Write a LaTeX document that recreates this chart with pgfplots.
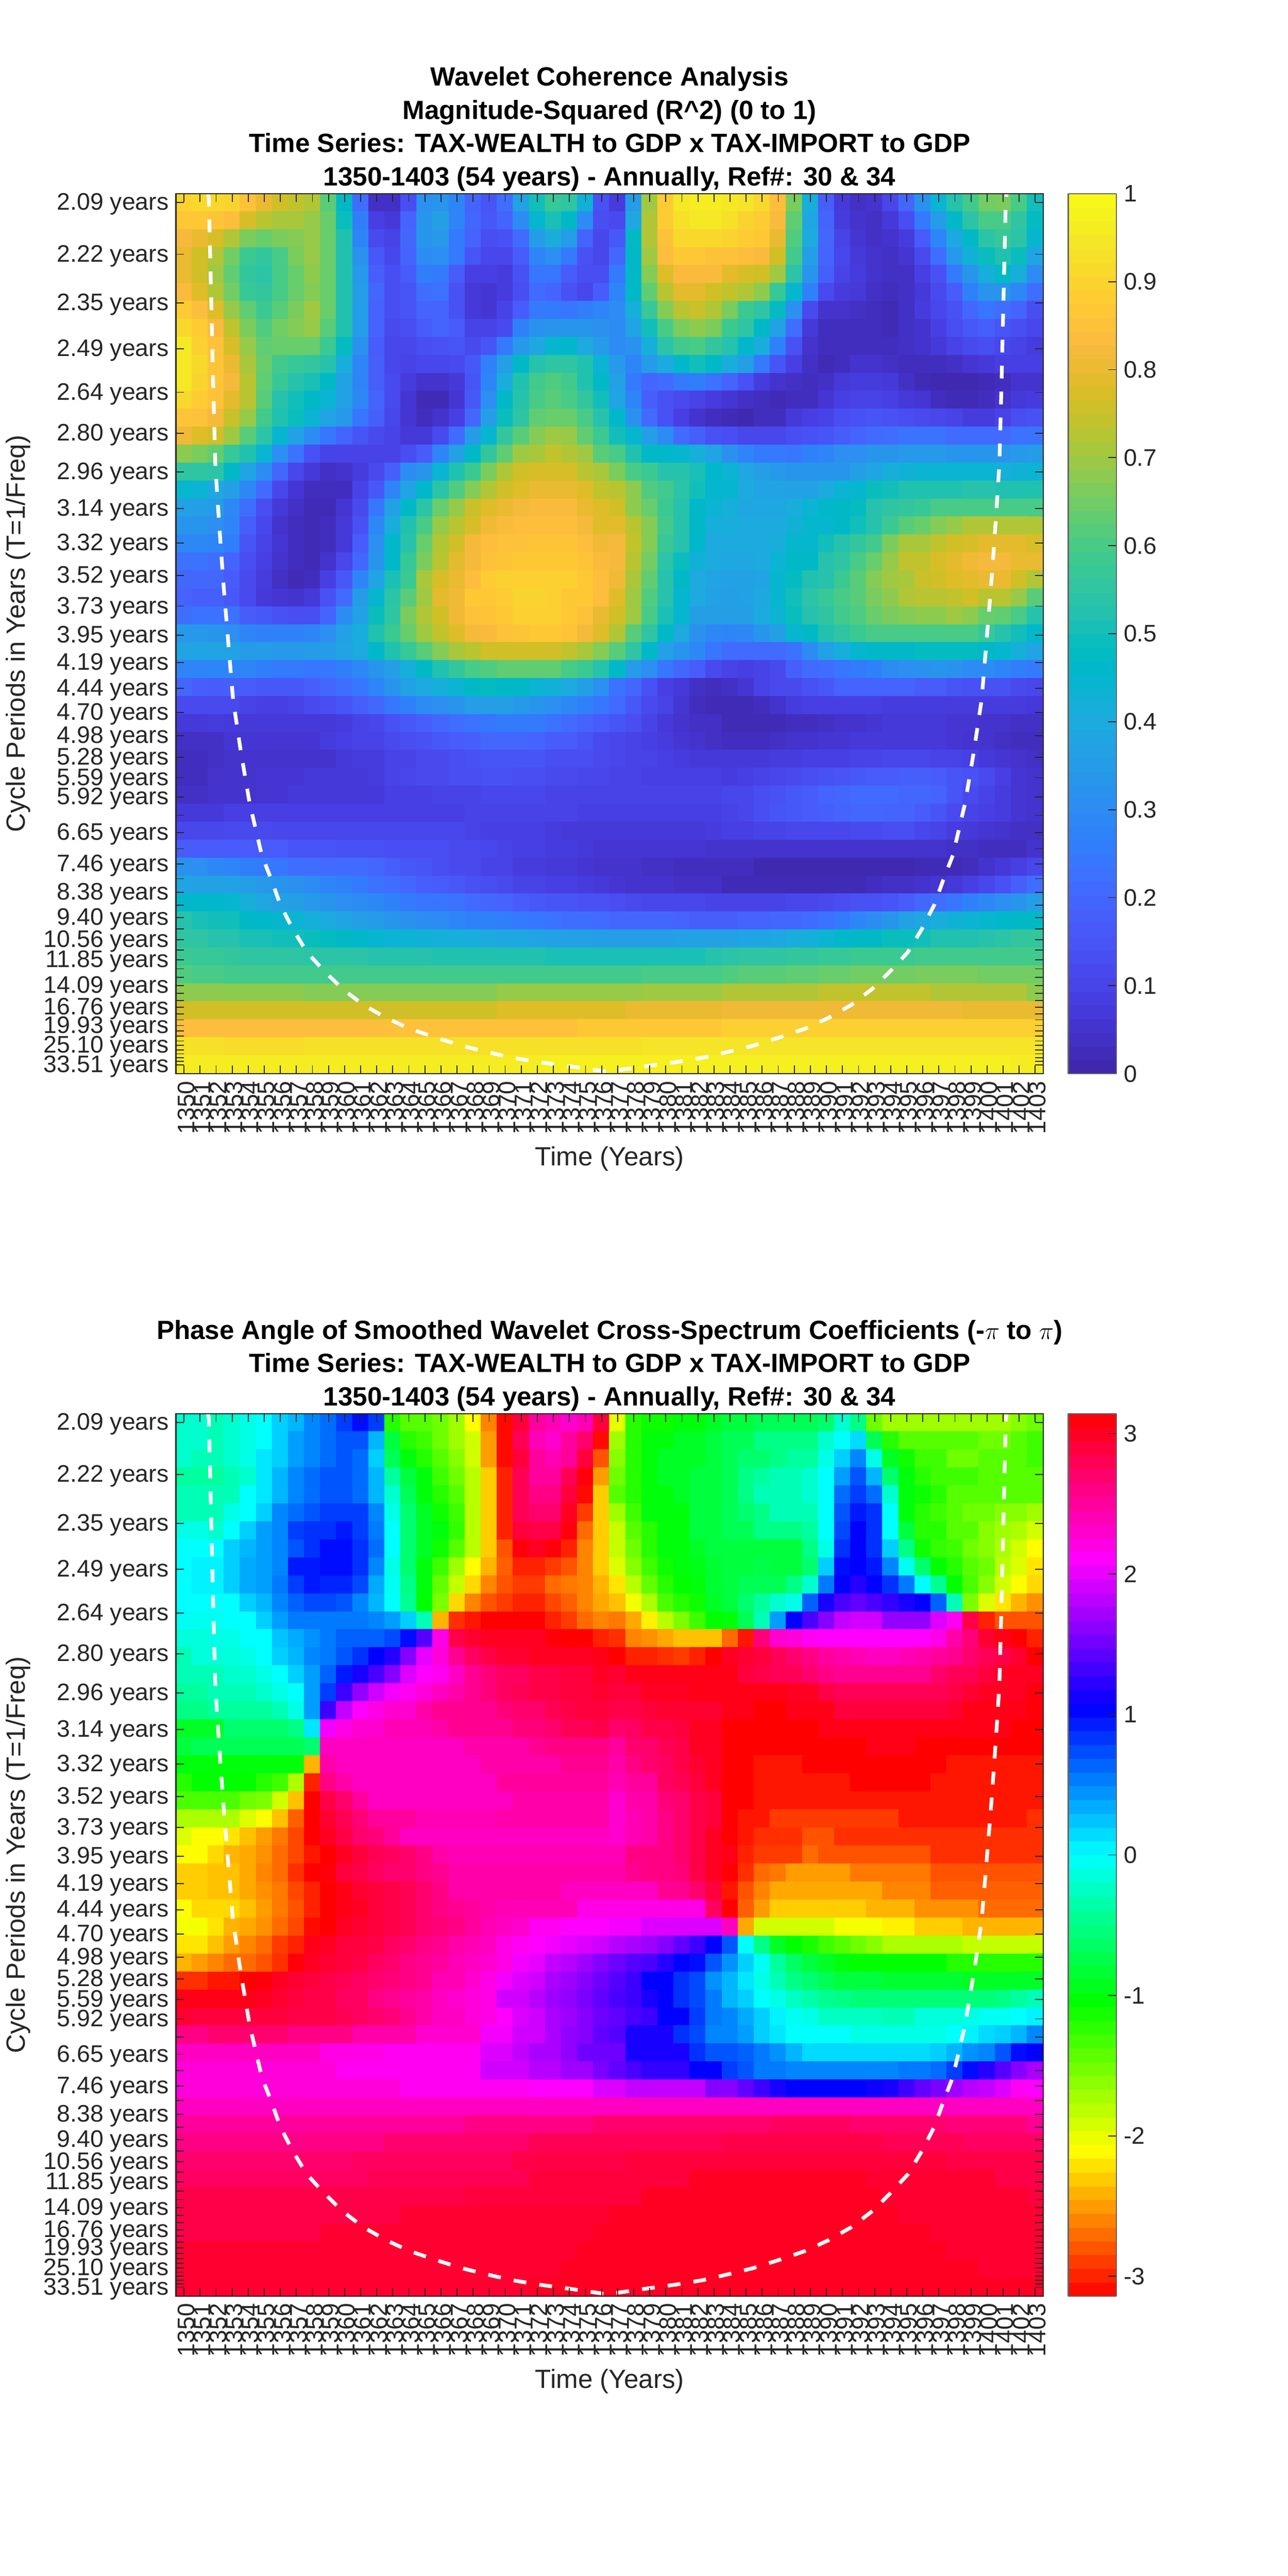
\documentclass[border=0pt]{standalone}
\usepackage{fontspec}
\setmainfont{Liberation Sans}
\usepackage{pgfplots}
\pgfplotsset{compat=1.18}
\definecolor{axgray}{gray}{0.15}
\newcount\Rcol \newcount\Rrow \newtoks\coordtoks
\def\Rstart{\coordtoks={}\Rrow=0 }
\def\Radd#1{\def\Rlast{#1}\ifnum\Rcol<54 \edef\tmp{\the\coordtoks(\the\numexpr1350+\Rcol\relax,\Rf) [\Rpre#1]}\coordtoks\expandafter{\tmp}\advance\Rcol 1 \fi}
\def\Rpad{\ifnum\Rcol<54 \expandafter\Radd\expandafter{\Rlast}\expandafter\Rpad\fi}
\def\Rloop#1 {\ifx!#1\expandafter\Rpad\else\Radd{#1}\expandafter\Rloop\fi}
\def\R#1{\Rcol=0 \pgfmathsetmacro\Rf{0.47746-0.009325*\the\Rrow}\Rloop#1 ! \advance\Rrow 1 }
\pgfplotsset{colormap={parula}{rgb=(0.2422,0.1504,0.6603) rgb=(0.2504,0.1650,0.7076) rgb=(0.2578,0.1818,0.7511) rgb=(0.2647,0.1978,0.7952) rgb=(0.2706,0.2147,0.8364) rgb=(0.2751,0.2342,0.8710) rgb=(0.2783,0.2559,0.8991) rgb=(0.2803,0.2782,0.9221) rgb=(0.2813,0.3006,0.9414) rgb=(0.2810,0.3228,0.9579) rgb=(0.2795,0.3447,0.9717) rgb=(0.2760,0.3667,0.9829) rgb=(0.2699,0.3892,0.9906) rgb=(0.2602,0.4123,0.9952) rgb=(0.2440,0.4358,0.9988) rgb=(0.2206,0.4603,0.9973) rgb=(0.1963,0.4847,0.9892) rgb=(0.1834,0.5074,0.9798) rgb=(0.1786,0.5289,0.9682) rgb=(0.1764,0.5499,0.9520) rgb=(0.1687,0.5703,0.9359) rgb=(0.1540,0.5902,0.9218) rgb=(0.1460,0.6091,0.9079) rgb=(0.1380,0.6276,0.8973) rgb=(0.1248,0.6459,0.8883) rgb=(0.1113,0.6635,0.8763) rgb=(0.0952,0.6798,0.8598) rgb=(0.0689,0.6948,0.8394) rgb=(0.0297,0.7082,0.8163) rgb=(0.0036,0.7203,0.7917) rgb=(0.0067,0.7312,0.7660) rgb=(0.0433,0.7411,0.7394) rgb=(0.0964,0.7500,0.7120) rgb=(0.1408,0.7584,0.6842) rgb=(0.1717,0.7670,0.6554) rgb=(0.1938,0.7758,0.6251) rgb=(0.2161,0.7843,0.5923) rgb=(0.2470,0.7918,0.5567) rgb=(0.2906,0.7973,0.5188) rgb=(0.3406,0.8008,0.4789) rgb=(0.3909,0.8029,0.4354) rgb=(0.4456,0.8024,0.3909) rgb=(0.5044,0.7993,0.3480) rgb=(0.5616,0.7942,0.3045) rgb=(0.6174,0.7876,0.2612) rgb=(0.6720,0.7793,0.2227) rgb=(0.7242,0.7698,0.1910) rgb=(0.7738,0.7598,0.1646) rgb=(0.8203,0.7498,0.1535) rgb=(0.8634,0.7406,0.1596) rgb=(0.9035,0.7330,0.1774) rgb=(0.9393,0.7288,0.2100) rgb=(0.9728,0.7298,0.2394) rgb=(0.9956,0.7434,0.2371) rgb=(0.9970,0.7659,0.2199) rgb=(0.9952,0.7893,0.2028) rgb=(0.9892,0.8136,0.1885) rgb=(0.9786,0.8386,0.1766) rgb=(0.9676,0.8639,0.1643) rgb=(0.9610,0.8890,0.1537) rgb=(0.9597,0.9135,0.1423) rgb=(0.9628,0.9373,0.1265) rgb=(0.9691,0.9606,0.1064) rgb=(0.9769,0.9839,0.0805)}}
\pgfplotsset{colormap={hsvm}{rgb255=(255,0,0) rgb255=(255,255,0) rgb255=(0,255,0) rgb255=(0,255,255) rgb255=(0,0,255) rgb255=(255,0,255) rgb255=(255,0,0)}}
\pgfplotsset{wave/.style={
  scale only axis,width=421pt,xmin=1349.5,xmax=1403.5,ymin=0.02518,ymax=0.48212,
  axis on top,tick align=inside,major tick length=4pt,
  axis line style={axgray,line width=0.6pt},
  every tick/.style={axgray,line width=0.45pt},
  xtick={1350,1351,1352,1353,1354,1355,1356,1357,1358,1359,1360,1361,1362,1363,1364,1365,1366,1367,1368,1369,1370,1371,1372,1373,1374,1375,1376,1377,1378,1379,1380,1381,1382,1383,1384,1385,1386,1387,1388,1389,1390,1391,1392,1393,1394,1395,1396,1397,1398,1399,1400,1401,1402,1403},
  xticklabels={1350,1351,1352,1353,1354,1355,1356,1357,1358,1359,1360,1361,1362,1363,1364,1365,1366,1367,1368,1369,1370,1371,1372,1373,1374,1375,1376,1377,1378,1379,1380,1381,1382,1383,1384,1385,1386,1387,1388,1389,1390,1391,1392,1393,1394,1395,1396,1397,1398,1399,1400,1401,1402,1403},
  xtick pos=both,ytick pos=both,scaled y ticks=false,scaled x ticks=false,
  /pgf/number format/assume math mode=true,/pgf/number format/1000 sep={},
  tick label style={font=\fontsize{11.6}{12}\selectfont,text=axgray},
  xticklabel style={rotate=90,anchor=east,xshift=0pt,yshift=-1pt},
  yticklabel style={yshift=-0.8pt},
  ytick={0.47746,0.45066,0.42537,0.40149,0.37896,0.35769,0.33761,0.31866,0.30078,0.28390,0.26796,0.25292,0.23873,0.22533,0.21268,0.20075,0.18948,0.17885,0.16881,0.15933,0.15039,0.14195,0.13398,0.12646,0.11937,0.11267,0.10634,0.10037,0.09474,0.08942,0.08440,0.07966,0.07519,0.07097,0.06699,0.06323,0.05968,0.05633,0.05317,0.05019,0.04737,0.04471,0.04220,0.03983,0.03760,0.03549,0.03350,0.03162,0.02984},
  yticklabels={2.09 years,2.22 years,2.35 years,2.49 years,2.64 years,2.80 years,2.96 years,3.14 years,3.32 years,3.52 years,3.73 years,3.95 years,4.19 years,4.44 years,4.70 years,4.98 years,5.28 years,5.59 years,5.92 years,,6.65 years,,7.46 years,,8.38 years,,9.40 years,,10.56 years,,11.85 years,,,14.09 years,,,16.76 years,,,19.93 years,,,,25.10 years,,,,,33.51 years},
  xlabel={Time (Years)},ylabel={Cycle Periods in Years (T=1/Freq)},
  every axis y label/.style={at={(axis description cs:-0.182,0.5)},rotate=90,anchor=center,font=\fontsize{12.8}{14}\selectfont,text=axgray},
  every axis x label/.style={at={(axis description cs:0.5,-0.0964)},anchor=center,font=\fontsize{12.8}{14}\selectfont,text=axgray},
  title style={align=center,font=\bfseries\fontsize{12.8}{16.2}\selectfont,at={(axis description cs:0.5,1)},anchor=south,yshift=-8.4pt},
  colorbar sampled,
}}
\Rstart \def\Rpre{0.}
\R{90 91 91 90 85 80 76 74 72 62 47 22 04 04 13 32 33 28 19 15 22 37 50 57 55 43 14 08 35 70 88 95 96 96 95 94 91 84 66 42 18 07 04 05 11 20 32 44 53 59 65 66 60 50}
\R{87 87 86 84 77 73 71 71 69 64 49 26 09 07 19 33 36 28 20 16 19 30 45 51 47 30 13 12 39 72 88 93 95 95 93 90 88 83 63 39 19 08 05 04 07 13 25 35 47 54 60 60 55 48}
\R{82 80 77 72 66 64 66 67 69 64 52 28 12 10 20 33 34 25 19 13 14 21 35 41 35 19 11 16 47 72 85 91 91 91 90 88 87 80 61 40 20 10 06 04 05 08 17 28 39 47 54 57 54 45}
\R{80 76 72 65 58 56 60 66 69 64 52 32 16 11 19 30 31 25 15 11 11 17 28 31 25 14 11 20 47 70 84 87 87 85 85 84 83 76 59 36 19 11 07 05 04 06 12 22 34 43 49 52 49 38}
\R{80 76 70 63 56 54 60 64 68 64 52 34 18 13 17 26 25 17 09 09 08 14 24 24 17 13 13 25 47 67 78 83 83 83 79 77 76 70 54 33 18 10 08 05 04 04 09 14 25 33 42 47 42 30}
\R{83 78 72 65 57 56 60 64 67 64 52 35 20 13 15 22 23 14 07 06 08 13 21 19 14 11 17 28 47 63 73 79 79 76 74 72 68 57 45 27 12 08 07 04 03 04 07 12 17 27 33 33 29 22}
\R{88 84 78 69 63 58 62 66 70 64 52 35 19 13 15 19 19 14 07 06 10 17 25 25 24 26 28 30 42 57 67 73 75 72 66 58 55 48 32 12 05 05 04 03 02 04 08 11 14 20 24 22 19 13}
\R{91 88 83 74 66 61 65 67 69 62 52 35 19 12 13 17 19 17 10 10 12 27 32 33 33 33 32 30 38 50 60 66 68 66 58 55 47 37 22 07 03 03 03 03 02 04 05 09 13 16 18 15 13 11}
\R{95 89 85 77 69 63 64 64 64 58 48 32 17 11 11 13 14 15 12 15 25 34 39 45 46 40 35 30 32 42 54 59 60 56 53 46 41 27 14 05 03 03 03 03 03 04 05 07 10 12 13 11 10 08}
\R{95 91 86 80 71 64 59 57 56 53 41 28 18 11 10 11 11 12 16 27 36 47 53 55 55 52 44 34 28 35 40 46 50 47 41 36 25 15 09 04 02 03 05 05 04 03 03 03 04 06 07 09 09 09}
\R{95 90 86 82 73 63 57 53 51 47 37 28 18 12 08 05 05 07 15 28 41 52 59 61 59 52 47 37 25 20 21 25 26 23 19 14 08 05 04 03 04 07 08 08 07 04 02 01 01 01 02 03 05 05}
\R{91 88 85 79 73 62 53 50 47 44 37 29 19 12 06 02 02 06 16 31 47 53 60 62 60 56 50 38 28 18 14 12 10 08 06 04 03 02 03 03 06 09 10 10 09 07 06 03 02 02 03 05 07 08}
\R{86 85 82 75 69 59 52 49 44 38 34 24 18 11 06 03 05 09 20 36 49 55 63 64 64 60 53 46 32 21 14 09 05 03 02 01 03 03 07 09 10 13 14 15 14 13 12 11 10 08 08 10 13 14}
\R{81 78 76 70 62 54 45 37 30 24 19 15 12 10 07 07 12 21 35 45 56 62 67 70 69 63 58 50 45 36 30 21 18 14 13 11 11 11 13 14 15 17 19 21 22 23 23 23 21 21 21 21 23 23}
\R{68 66 63 57 52 44 31 23 14 10 10 10 10 10 13 17 28 37 47 56 63 70 71 74 72 70 62 60 52 47 46 45 42 38 32 28 25 25 24 27 28 31 31 33 33 34 34 34 33 33 33 33 34 35}
\R{55 55 54 47 38 30 20 11 07 04 05 08 12 18 30 33 44 52 58 66 72 76 77 77 77 73 71 66 60 58 53 53 51 46 44 39 36 34 33 33 33 33 36 38 42 43 44 44 44 44 44 42 43 44}
\R{45 44 39 36 29 21 11 06 03 03 03 10 16 28 38 46 54 61 67 72 76 78 80 80 80 78 74 73 68 61 59 54 50 45 45 40 38 38 37 37 40 44 45 49 50 52 52 52 52 53 53 52 52 52}
\R{37 36 35 29 22 13 07 04 02 02 06 12 24 37 47 54 64 69 75 78 80 82 83 83 83 80 78 76 68 64 58 53 47 44 42 39 39 39 41 44 46 47 48 53 55 56 57 60 60 60 60 60 60 60}
\R{33 33 31 28 18 11 05 03 02 03 07 14 29 41 52 60 69 73 77 81 83 84 84 84 84 82 78 79 73 67 59 53 47 42 41 40 40 40 43 45 45 47 50 53 58 62 64 67 69 72 72 72 72 72}
\R{29 29 28 26 15 10 06 03 02 03 07 17 31 46 53 64 72 76 82 84 85 85 86 86 86 84 81 82 74 67 57 53 46 40 40 40 40 41 45 45 50 53 56 59 66 71 71 74 76 77 79 79 79 77}
\R{23 23 22 19 13 09 05 03 02 05 11 20 33 46 57 66 73 79 82 85 86 87 87 87 87 86 83 82 73 65 54 49 43 40 39 39 40 44 47 47 53 55 60 64 69 74 74 77 79 81 82 82 80 80}
\R{20 20 20 17 12 08 04 02 03 09 16 28 38 51 58 71 77 80 84 88 89 89 89 89 89 87 84 81 71 63 53 47 40 38 37 37 38 45 48 52 53 58 62 67 70 71 75 76 78 79 80 80 76 72}
\R{19 18 18 16 12 07 06 05 07 14 21 35 45 54 62 70 79 81 87 87 88 90 90 89 87 87 84 78 70 61 53 45 40 37 36 37 39 45 50 54 57 60 62 66 68 72 73 73 74 76 73 73 69 62}
\R{22 23 23 23 17 16 14 13 13 19 30 37 49 55 66 72 76 81 85 86 87 89 89 89 87 85 80 76 70 60 51 45 36 36 36 36 40 44 49 53 55 59 61 64 66 67 68 68 70 68 64 63 60 53}
\R{34 34 33 31 28 27 27 27 28 31 37 41 52 58 64 70 74 78 82 83 85 86 87 87 86 82 78 72 62 55 47 40 32 29 28 29 33 36 45 47 52 55 58 60 60 60 60 60 60 60 57 53 50 46}
\R{38 38 38 37 35 35 34 34 35 35 38 40 46 52 57 62 67 71 73 76 76 76 76 76 74 71 67 62 55 46 37 33 29 24 21 21 21 21 23 30 37 41 45 46 47 47 48 48 48 48 47 45 42 38}
\R{28 28 28 28 28 26 25 25 24 24 26 29 33 36 42 47 52 56 60 61 63 63 63 63 60 58 53 47 35 31 24 20 17 12 10 09 10 12 18 21 22 24 25 27 30 31 32 33 32 30 30 28 26 25}
\R{20 18 17 18 17 16 16 16 18 20 22 24 28 33 37 40 42 44 47 48 47 47 44 43 40 36 31 23 20 14 09 07 04 03 04 06 10 12 12 14 16 19 19 19 19 19 17 17 15 14 14 14 12 11}
\R{12 12 12 12 10 09 09 10 12 13 15 18 20 24 27 30 31 33 36 36 36 34 33 31 29 27 24 21 16 12 10 06 03 02 02 02 03 05 08 09 09 09 09 09 08 08 08 08 08 08 08 08 08 07}
\R{07 07 08 07 07 07 07 07 07 07 08 10 11 14 16 18 20 22 23 24 25 25 25 23 21 19 17 15 13 10 07 05 04 04 02 02 02 02 03 03 04 05 05 06 07 07 07 07 06 06 05 05 04 04}
\R{04 04 04 06 06 06 06 06 06 08 09 10 10 12 13 14 16 17 18 20 20 20 19 17 17 15 12 11 10 09 08 06 05 04 03 03 03 04 05 05 06 06 07 07 07 07 07 07 06 05 05 04 03 03}
\R{03 03 04 05 05 05 05 05 05 05 07 08 08 10 10 12 12 13 14 15 15 15 15 13 13 13 12 11 10 10 09 08 07 07 07 07 07 08 08 09 09 09 10 10 11 11 11 10 10 09 07 06 05 04}
\R{03 03 05 05 05 06 06 06 07 07 07 07 08 10 11 12 12 13 13 14 14 13 13 12 12 11 11 10 10 09 09 09 09 09 08 09 10 11 12 13 14 15 16 17 17 18 18 17 15 14 12 09 06 05}
\R{04 04 05 05 05 06 06 07 07 07 07 07 07 09 09 09 10 10 10 11 11 11 11 10 10 10 10 10 10 10 10 10 10 10 11 11 13 14 16 17 19 20 21 21 21 20 20 19 15 12 10 08 06 05}
\R{07 07 07 09 09 09 09 09 09 09 09 09 09 09 09 09 09 09 10 10 10 10 10 10 10 09 09 09 09 09 09 09 09 09 10 11 13 15 16 17 18 19 20 20 19 19 17 15 12 10 09 08 06 05}
\R{11 11 11 12 12 12 11 11 11 11 11 11 11 11 11 11 11 11 10 09 09 09 09 08 07 07 07 07 07 07 07 07 07 08 09 09 10 10 11 11 11 11 12 12 13 13 11 10 08 07 06 05 04 04}
\R{17 17 17 17 17 17 17 15 15 15 14 14 14 13 13 13 13 12 12 11 10 09 09 08 08 07 06 06 06 06 06 06 06 05 05 05 05 05 05 05 05 05 05 05 05 05 05 05 04 04 03 03 03 05}
\R{32 31 29 28 26 25 24 22 22 21 21 21 20 18 16 15 13 12 12 10 10 08 08 07 07 06 05 05 05 04 04 03 03 03 03 03 01 01 01 01 01 01 01 01 01 01 02 02 02 03 05 07 09 11}
\R{38 37 37 37 36 34 33 32 30 28 27 25 23 22 20 18 17 16 14 13 12 10 10 09 09 08 07 06 05 05 05 04 04 04 02 02 02 02 02 02 02 02 02 03 04 04 05 06 07 09 11 14 18 22}
\R{46 46 46 45 42 39 37 36 34 33 31 30 29 27 25 24 24 23 21 20 19 17 16 15 15 14 14 13 12 11 11 11 11 10 10 10 10 10 11 11 12 13 14 14 15 17 20 22 24 27 29 31 33 36}
\R{53 51 50 50 47 46 45 44 42 40 38 36 35 33 32 30 30 28 27 27 26 25 24 23 22 22 21 20 20 20 20 19 18 18 18 19 19 20 20 21 23 25 28 30 33 37 39 41 43 44 45 46 47 47}
\R{55 55 53 53 51 51 50 50 49 48 47 46 45 44 44 43 42 42 41 40 39 39 38 37 37 37 36 36 36 36 36 37 37 37 37 38 38 39 41 42 44 46 47 47 49 49 50 52 52 52 53 54 56 56}
\R{58 57 57 56 55 55 55 55 54 54 54 54 53 53 53 53 52 52 52 52 52 52 52 51 51 51 51 51 51 51 51 51 51 53 54 55 55 55 56 56 57 57 58 58 58 58 59 59 59 59 59 59 59 59}
\R{61 60 60 59 59 59 59 59 59 59 59 59 59 59 59 59 59 59 59 59 59 59 59 59 59 59 59 59 59 60 60 60 60 60 61 62 62 62 63 63 64 64 65 65 65 65 66 66 66 66 65 65 65 65}
\R{68 68 68 68 68 68 68 68 67 67 67 67 67 67 67 67 67 67 67 67 69 69 69 69 69 69 69 69 69 70 70 70 70 70 72 72 72 72 72 72 74 74 74 74 74 74 74 72 72 72 72 72 72 68}
\R{76 76 76 76 76 76 76 76 76 76 76 76 76 76 76 76 76 76 76 76 78 78 78 78 78 78 78 78 80 80 80 80 80 80 81 81 81 81 81 81 81 81 81 81 81 81 81 81 81 80 80 80 80 80}
\R{84 84 84 84 84 84 84 84 84 84 84 84 84 85 85 85 85 85 85 85 85 85 85 85 85 87 87 87 87 87 87 87 87 87 89 89 89 89 89 89 89 89 89 89 89 89 89 89 89 89 89 89 89 89}
\R{93 93 93 92 92 92 92 92 93 93 93 93 93 93 93 93 93 93 93 93 93 93 93 93 93 93 93 93 93 94 94 94 94 94 94 94 94 94 94 94 94 94 94 94 94 94 94 94 94 94 94 94 94 94}
\R{96 96 96 96 96 96 96 96 96 96 96 96 96 96 96 96 96 96 96 96 96 96 96 97 97 97 97 97 97 97 97 97 97 97 97 97 97 97 97 97 97 97 97 97 97 97 97 97 97 97 97 97 96 96}
\edef\dataA{\the\coordtoks}
\Rstart \def\Rpre{}
\R{-.2 -.2 -.3 -.2 -.1 0 .2 .3 .5 .6 .8 1 .8 -1.2 -1.4 -1.4 -1.5 -1.7 -2.1 -2.6 -3.1 2.9 2.5 2.4 2.3 2.4 2.9 -2 -1.2 -1.1 -1.1 -1 -1 -.9 -.8 -.8 -.7 -.7 -.7 -.7 -.6 -.2 -.5 -1.5 -1.7 -1.7 -1.7 -1.7 -1.7 -1.7 -1.7 -1.7 -1.6 -1.5}
\R{-.2 -.2 -.3 -.2 -.1 0 .2 .4 .5 .6 .7 .7 .3 -.8 -1.2 -1.3 -1.5 -1.7 -1.9 -2.5 -3.1 2.8 2.4 2.3 2.5 2.7 -3.1 -1.7 -1.2 -1 -1 -.9 -.9 -.8 -.7 -.7 -.5 -.5 -.5 -.5 -.2 0 .15 -.7 -1.2 -1.4 -1.4 -1.4 -1.4 -1.4 -1.5 -1.5 -1.4 -1.3}
\R{-.2 -.3 -.3 -.2 -.1 .1 .2 .4 .5 .6 .7 .6 .2 -.7 -1 -1.2 -1.4 -1.6 -1.9 -2.5 -3.1 2.9 2.5 2.4 2.5 2.9 -2.8 -1.6 -1.2 -1 -.9 -.9 -.9 -.8 -.7 -.6 -.6 -.5 -.4 -.4 -.1 .2 .5 -.1 -.9 -1.1 -1.3 -1.3 -1.5 -1.5 -1.4 -1.4 -1.4 -1.3}
\R{-.4 -.4 -.4 -.3 -.2 .1 .3 .5 .6 .7 .7 .6 .3 -.4 -.8 -1 -1.3 -1.5 -1.8 -2.3 -3 2.8 2.5 2.5 2.8 3.1 -2.5 -1.5 -1.2 -1 -.9 -.9 -.8 -.8 -.7 -.5 -.4 -.3 -.3 -.2 0 .4 .7 .3 -.6 -1 -1.2 -1.3 -1.3 -1.3 -1.4 -1.4 -1.4 -1.4}
\R{-.3 -.3 -.3 -.3 0 .1 .3 .5 .6 .7 .7 .6 .3 -.2 -.7 -1 -1.2 -1.4 -1.8 -2.3 -3 2.8 2.6 2.6 2.9 -3.1 -2.3 -1.4 -1.2 -1 -1 -.9 -.8 -.8 -.7 -.5 -.3 -.3 -.3 -.2 0 .6 .8 .6 -.2 -1 -1.1 -1.2 -1.4 -1.4 -1.4 -1.4 -1.4 -1.4}
\R{-.3 -.3 -.3 -.1 0 .2 .5 .6 .7 .8 .8 .8 .5 -.1 -.6 -.9 -1.1 -1.3 -1.8 -2.3 -3 2.8 2.7 2.7 3 -2.9 -2.3 -1.7 -1.3 -1 -1 -1 -.8 -.8 -.7 -.6 -.5 -.3 -.3 -.3 0 .7 .95 .85 0 -1 -1.2 -1.3 -1.4 -1.5 -1.5 -1.6 -1.6 -1.7}
\R{-.1 -.1 -.2 0 .2 .4 .5 .8 .85 .85 .95 .8 .55 0 -.6 -.9 -1 -1.25 -1.8 -2.3 -3 2.9 2.85 2.85 3.1 -2.7 -2.3 -1.85 -1.4 -1.2 -1 -1 -.8 -.8 -.7 -.7 -.5 -.5 -.5 -.4 0 .75 1.05 .85 0 -.8 -1.2 -1.2 -1.4 -1.4 -1.6 -1.7 -1.75 -1.9}
\R{0 0 0 .2 .3 .4 .5 .7 .85 1 1 .85 .6 0 -.6 -.9 -1.1 -1.4 -1.8 -2.3 -2.8 3.1 3 3.1 -3 -2.6 -2.3 -1.85 -1.5 -1.2 -1 -1 -.9 -.8 -.8 -.8 -.8 -.8 -.8 -.5 -.1 .85 1.05 .85 .2 -.5 -1.1 -1.25 -1.3 -1.5 -1.6 -1.75 -1.9 -2.1}
\R{0 .05 .05 .2 .35 .4 .5 .95 .95 1 1 .85 .5 -.1 -.6 -1 -1.3 -1.7 -2.1 -2.4 -2.75 -3 -3 -2.9 -2.8 -2.6 -2.3 -1.95 -1.6 -1.3 -1.1 -1 -.95 -.85 -.8 -.8 -.75 -.8 -.8 -.6 .2 1 1.05 .95 .5 -.05 -.6 -1.05 -1.2 -1.4 -1.5 -1.8 -1.95 -2.2}
\R{0 .05 .05 .2 .35 .4 .55 .8 .95 .9 .9 .75 .35 -.05 -.5 -1 -1.45 -1.85 -2.25 -2.6 -2.8 -2.9 -2.9 -2.7 -2.65 -2.6 -2.4 -2.2 -1.8 -1.45 -1.2 -1.05 -1 -.85 -.8 -.7 -.7 -.7 -.5 -.2 .55 1.05 1.2 1.05 .85 .55 0 -.45 -1.05 -1.35 -1.6 -1.9 -2.1 -2.25}
\R{0 0 0 0 .2 .3 .5 .65 .75 .75 .7 .5 .3 0 -.45 -1.05 -1.55 -2.25 -2.6 -2.8 -2.9 -3 -3 -2.85 -2.75 -2.6 -2.45 -2.35 -2.05 -1.75 -1.35 -1.2 -1.1 -.9 -.8 -.6 -.4 -.2 -.1 .65 1.15 1.35 1.45 1.35 1.25 1.15 1.05 .65 -.3 -1.55 -1.95 -2.2 -2.4 -2.55}
\R{-.05 -.05 -.05 0 0 .2 .4 .55 .55 .55 .55 .55 .5 .4 .2 -.3 -2.4 -2.95 -3.05 -3.14 -3.14 -3.14 -3.14 -3 -2.9 -2.7 -2.6 -2.65 -2.45 -2.15 -1.8 -1.55 -1.3 -1.05 -1 -.7 -.3 .4 1.05 1.35 1.6 1.85 1.9 1.9 1.65 1.65 1.65 1.95 2.15 2.85 -3 -2.8 -2.8 -2.8}
\R{-.15 -.15 -.1 -.1 0 0 .25 .35 .45 .55 .65 .65 .65 .75 1 1.4 2.2 2.85 2.95 3 3 3 3 3.1 3.14 3.14 -3 -2.95 -2.6 -2.55 -2.45 -2.35 -2.35 -2.35 -2.7 -3.05 2.65 2.3 2.25 2.15 2.1 2.1 2.1 2.1 2.1 2.1 2.1 2.2 2.45 2.65 2.95 3.05 3.14 -3}
\R{-.3 -.15 -.15 -.15 -.1 0 .2 .3 .5 .55 .7 .85 1.05 1.2 1.6 2 2.25 2.55 2.75 2.85 2.95 2.95 3 3 3 3 3.05 3.14 -3 -3 -2.95 -2.9 -3 3.14 3 2.95 2.9 2.8 2.7 2.6 2.5 2.45 2.4 2.35 2.35 2.4 2.45 2.5 2.55 2.7 2.8 2.85 2.95 3.14}
\R{-.3 -.3 -.3 -.2 -.2 -.1 0 .2 .4 .65 .95 1.15 1.35 1.6 1.95 2.1 2.15 2.35 2.55 2.65 2.75 2.75 2.85 2.85 2.9 2.9 3 2.95 3.05 3.05 3.05 3.05 3.05 3.05 3.05 2.9 2.85 2.8 2.8 2.7 2.6 2.55 2.55 2.55 2.55 2.55 2.55 2.7 2.8 2.8 2.9 3 3 3}
\R{-.4 -.4 -.3 -.3 -.3 -.2 -.1 0 .4 .8 1.3 1.65 1.9 2.05 2.15 2.25 2.35 2.45 2.55 2.65 2.75 2.8 2.85 2.85 2.9 2.9 2.95 2.9 2.9 3 3 3 3.05 3.05 3.05 3.05 3.05 3.05 3 3 2.85 2.8 2.8 2.8 2.8 2.8 2.8 2.8 2.85 2.95 3 3 3 3.1}
\R{-.5 -.5 -.4 -.4 -.4 -.4 -.3 -.1 .4 1.3 1.85 2.1 2.2 2.3 2.3 2.45 2.55 2.55 2.55 2.55 2.65 2.7 2.7 2.8 2.85 2.9 2.9 2.85 2.85 2.9 2.95 2.95 2.95 2.95 3.05 3.05 3.14 3.14 3.05 3.05 3.05 2.9 2.9 2.9 2.9 2.9 2.9 2.9 2.95 3.05 3.05 3.05 3.05 3.1}
\R{-.9 -.9 -.9 -.6 -.6 -.6 -.6 -.5 .1 2.05 2.2 2.3 2.3 2.4 2.4 2.4 2.45 2.55 2.55 2.55 2.55 2.65 2.65 2.7 2.8 2.8 2.85 2.7 2.75 2.85 2.85 2.9 3 3 3.14 3.14 3.14 3.14 3.14 3.14 3.05 3.05 3.05 3.05 3.05 3.05 3.05 3.05 3.05 3.05 3.05 3.05 3.14 3.14}
\R{-.8 -.7 -.7 -.7 -.7 -.7 -.7 -.7 -.6 2.35 2.35 2.35 2.35 2.35 2.35 2.35 2.35 2.35 2.45 2.45 2.45 2.45 2.55 2.6 2.6 2.6 2.6 2.5 2.7 2.7 2.8 2.85 3 3 3.14 3.14 3.14 3.14 3.14 3.14 3.14 3.14 3.14 3.05 3.05 3.05 3.14 3.14 3.14 3.14 3.14 3.14 3.14 3.14}
\R{-1 -1 -1 -1 -1 -1 -1 -1 -2.4 2.45 2.35 2.35 2.35 2.35 2.35 2.35 2.35 2.35 2.35 2.45 2.45 2.45 2.45 2.45 2.55 2.55 2.55 2.45 2.6 2.7 2.75 2.85 2.95 3 3.14 3.14 -3.05 -3.05 -3.05 3.14 3.14 3.14 3.14 3.14 3.14 3.14 3.14 3.14 -3.05 -3.05 -3.05 -3.05 -3.05 -3.05}
\R{-1.2 -1.05 -1.05 -1.05 -1.05 -1.2 -1.3 -1.75 -3 2.6 2.45 2.35 2.35 2.35 2.35 2.35 2.35 2.35 2.35 2.35 2.5 2.5 2.5 2.5 2.5 2.5 2.5 2.4 2.5 2.5 2.75 2.8 2.9 3 3.14 3.14 -3.05 -3.05 -3.05 -3.05 -3.05 -3.05 3.14 3.14 3.14 3.14 3.14 -3.05 -3.05 -3.05 -3.05 -3.05 -3.05 -3.05}
\R{-1.35 -1.35 -1.35 -1.35 -1.5 -1.55 -1.9 -2.35 -3.14 2.85 2.7 2.5 2.35 2.35 2.35 2.35 2.35 2.35 2.35 2.35 2.35 2.45 2.45 2.45 2.45 2.45 2.45 2.3 2.45 2.45 2.65 2.7 2.85 2.9 3.14 3.14 -3.05 -3.05 -3.05 -3.05 -3.05 -3.05 -3.05 -3.05 -3.05 -3.05 -3.05 -3.05 -3.05 -3.05 -3.05 -3.05 -3.05 -3.05}
\R{-1.75 -1.75 -1.75 -1.75 -1.95 -2.1 -2.35 -2.75 3.14 2.95 2.8 2.65 2.5 2.5 2.5 2.4 2.4 2.4 2.4 2.4 2.45 2.45 2.45 2.45 2.45 2.45 2.45 2.3 2.4 2.45 2.6 2.7 2.85 2.9 3.14 -3.05 -3.05 -2.9 -2.9 -2.9 -2.9 -2.9 -2.9 -2.9 -2.9 -3.05 -3.05 -3.05 -3.05 -3.05 -3.05 -3.05 -3.05 -2.95}
\R{-1.95 -2.1 -2.1 -2.2 -2.35 -2.5 -2.65 -2.85 3.14 3 2.85 2.7 2.65 2.5 2.35 2.35 2.35 2.35 2.35 2.35 2.35 2.35 2.35 2.35 2.35 2.35 2.35 2.3 2.4 2.45 2.6 2.7 2.85 3 3.14 -3.05 -2.95 -2.95 -2.95 -2.8 -2.8 -2.95 -2.95 -2.95 -2.95 -2.95 -2.95 -2.95 -2.95 -2.95 -2.95 -2.95 -2.95 -2.95}
\R{-2.1 -2.1 -2.25 -2.4 -2.45 -2.55 -2.7 -2.85 -3.05 3.14 3 2.9 2.8 2.75 2.7 2.6 2.45 2.4 2.4 2.4 2.4 2.4 2.4 2.4 2.4 2.4 2.4 2.4 2.6 2.6 2.6 2.7 2.85 3 3.05 -3 -2.9 -2.9 -2.9 -2.7 -2.8 -2.8 -2.8 -2.8 -2.8 -2.8 -2.8 -2.95 -2.95 -2.95 -2.95 -2.95 -2.95 -2.95}
\R{-2.3 -2.3 -2.35 -2.35 -2.45 -2.6 -2.7 -2.95 3.14 3.1 2.9 2.85 2.75 2.7 2.7 2.6 2.55 2.45 2.45 2.45 2.45 2.45 2.45 2.45 2.45 2.45 2.45 2.45 2.55 2.6 2.6 2.65 2.85 3 3.14 -2.95 -2.7 -2.65 -2.5 -2.5 -2.5 -2.5 -2.65 -2.65 -2.65 -2.65 -2.65 -2.8 -2.8 -2.8 -2.8 -2.8 -2.8 -2.8}
\R{-2.3 -2.3 -2.35 -2.35 -2.45 -2.55 -2.65 -2.85 -3 3.14 3.05 2.95 2.9 2.85 2.8 2.7 2.6 2.45 2.45 2.45 2.45 2.45 2.45 2.45 2.35 2.35 2.35 2.35 2.35 2.35 2.55 2.55 2.7 2.9 -3.05 -2.8 -2.6 -2.45 -2.45 -2.45 -2.45 -2.45 -2.45 -2.45 -2.6 -2.6 -2.6 -2.75 -2.75 -2.75 -2.75 -2.75 -2.75 -2.75}
\R{-2.1 -2.25 -2.25 -2.25 -2.35 -2.5 -2.65 -2.8 -3 3.14 3.05 3 2.9 2.85 2.8 2.7 2.6 2.55 2.5 2.45 2.4 2.4 2.4 2.4 2.4 2.2 2.2 2.2 2.2 2.2 2.2 2.2 2.2 2.75 3.14 -2.75 -2.5 -2.3 -2.3 -2.3 -2.3 -2.3 -2.3 -2.4 -2.4 -2.4 -2.55 -2.55 -2.55 -2.55 -2.7 -2.7 -2.7 -2.7}
\R{-2.05 -2.05 -2.2 -2.4 -2.45 -2.55 -2.7 -2.85 -3.1 3.14 3 2.95 2.9 2.85 2.8 2.7 2.65 2.6 2.5 2.4 2.35 2.3 2.15 2.15 2.1 2.1 2.1 2.05 2.05 1.95 1.95 1.95 1.95 1.95 2.35 -2.45 -1.9 -1.9 -1.9 -1.9 -1.9 -2.05 -2.05 -2.05 -2.15 -2.15 -2.3 -2.3 -2.3 -2.4 -2.4 -2.4 -2.4 -2.4}
\R{-2.2 -2.2 -2.35 -2.5 -2.6 -2.7 -2.9 -3 3.05 3 2.9 2.9 2.85 2.75 2.7 2.6 2.55 2.45 2.4 2.35 2.2 2.15 2.1 2.05 2 1.95 1.9 1.8 1.75 1.7 1.6 1.45 1.3 1.05 .7 0 -.5 -.9 -1.05 -1.15 -1.3 -1.4 -1.5 -1.6 -1.75 -1.75 -1.75 -1.75 -1.75 -1.85 -1.85 -1.85 -1.85 -1.85}
\R{-2.4 -2.5 -2.6 -2.7 -2.7 -2.8 -2.95 3.1 3 2.95 2.9 2.85 2.75 2.7 2.6 2.55 2.5 2.4 2.35 2.3 2.2 2.05 2 1.85 1.8 1.7 1.6 1.5 1.4 1.35 1.2 1.05 1 .7 .45 .2 -.05 -.4 -.65 -.8 -.9 -1 -1.05 -1.05 -1.05 -1.05 -1.05 -1.05 -1.2 -1.2 -1.2 -1.2 -1.2 -1.2}
\R{-2.95 -2.95 -3.05 -3.05 3.14 3.1 3 2.95 2.9 2.85 2.8 2.75 2.7 2.65 2.6 2.55 2.4 2.4 2.3 2.2 2.05 1.95 1.9 1.75 1.7 1.6 1.5 1.4 1.3 1.05 1.05 .85 .75 .45 .3 .1 -.1 -.3 -.5 -.6 -.7 -.8 -.8 -.8 -.85 -.85 -.85 -.85 -.85 -.9 -.9 -.9 -.9 -.9}
\R{3.05 3.05 3.05 3.05 3.05 3 2.95 2.9 2.85 2.85 2.75 2.75 2.6 2.55 2.5 2.45 2.35 2.3 2.25 2.2 1.9 1.9 1.8 1.7 1.65 1.55 1.45 1.35 1.3 1.15 1.05 .85 .75 .55 .3 .2 0 -.1 -.25 -.35 -.45 -.5 -.55 -.55 -.55 -.55 -.55 -.55 -.55 -.55 -.55 -.5 -.4 -.3}
\R{2.95 2.9 2.9 2.9 2.9 2.9 2.9 2.85 2.85 2.85 2.8 2.75 2.7 2.65 2.55 2.45 2.35 2.35 2.25 2.2 2.1 1.95 1.9 1.75 1.7 1.6 1.5 1.45 1.35 1.3 1.05 1.05 .8 .55 .5 .35 .2 .05 -.05 -.1 -.25 -.25 -.25 -.25 -.3 -.3 -.15 -.15 -.15 -.1 -.05 -.05 0 .05}
\R{2.6 2.6 2.7 2.7 2.7 2.7 2.7 2.6 2.6 2.6 2.6 2.45 2.45 2.45 2.45 2.3 2.3 2.3 2.3 2.05 2.05 1.9 1.9 1.75 1.65 1.6 1.45 1.4 1.15 1.15 1.15 .85 .75 .5 .5 .4 .2 .1 0 0 0 0 -.1 -.1 -.1 -.1 -.1 -.1 0 .05 .15 .2 .3 .5}
\R{2.35 2.35 2.35 2.35 2.35 2.35 2.35 2.35 2.35 2.2 2.2 2.2 2.2 2.15 2.15 2.15 2.15 2.15 2.15 1.95 1.95 1.85 1.75 1.75 1.65 1.5 1.5 1.5 1.15 1.15 1.15 1.15 .85 .7 .7 .65 .55 .45 .3 .15 .15 .15 .15 .15 .15 .15 .15 .2 .3 .45 .5 .7 1 1.05}
\R{2.25 2.25 2.25 2.25 2.25 2.25 2.25 2.25 2.25 2.25 2.15 2.15 2.15 2.15 2.15 2.15 2.15 2.15 2.15 1.9 1.9 1.9 1.8 1.8 1.7 1.7 1.55 1.45 1.35 1.25 1.25 1.25 1.05 1.05 .8 .7 .55 .55 .5 .5 .5 .5 .5 .5 .5 .55 .55 .6 .8 1 1.2 1.4 1.6 1.75}
\R{2.25 2.25 2.25 2.25 2.25 2.25 2.25 2.25 2.25 2.25 2.25 2.25 2.25 2.25 2.15 2.15 2.15 2.15 2.15 2.15 2.15 2.15 2.1 2.1 2.1 2.1 1.95 1.95 1.85 1.85 1.85 1.85 1.85 1.6 1.6 1.45 1.3 1.15 1.05 1.05 1.05 1.05 1.05 1.1 1.15 1.3 1.45 1.55 1.7 1.8 1.85 1.95 2.15 2.1}
\R{2.35 2.35 2.35 2.35 2.35 2.35 2.35 2.35 2.35 2.35 2.35 2.35 2.35 2.35 2.35 2.35 2.35 2.35 2.35 2.35 2.35 2.35 2.35 2.35 2.35 2.35 2.35 2.35 2.35 2.35 2.35 2.35 2.35 2.35 2.35 2.35 2.35 2.35 2.35 2.35 2.35 2.35 2.35 2.35 2.35 2.35 2.35 2.35 2.35 2.35 2.35 2.35 2.35 2.35}
\R{2.5 2.5 2.5 2.5 2.5 2.5 2.5 2.5 2.5 2.5 2.5 2.5 2.5 2.5 2.5 2.5 2.5 2.5 2.6 2.6 2.6 2.6 2.6 2.6 2.6 2.6 2.7 2.7 2.7 2.7 2.7 2.7 2.7 2.7 2.7 2.7 2.7 2.75 2.75 2.75 2.75 2.75 2.7 2.7 2.7 2.7 2.7 2.7 2.65 2.65 2.65 2.65 2.65 2.55}
\R{2.6 2.6 2.6 2.6 2.6 2.6 2.6 2.6 2.6 2.6 2.6 2.6 2.6 2.7 2.7 2.7 2.7 2.7 2.7 2.7 2.7 2.7 2.8 2.8 2.8 2.8 2.8 2.8 2.8 2.8 2.8 2.8 2.8 2.8 2.85 2.85 2.85 2.85 2.85 2.85 2.85 2.85 2.85 2.85 2.8 2.8 2.8 2.8 2.8 2.75 2.75 2.75 2.75 2.75}
\R{2.7 2.7 2.7 2.7 2.7 2.7 2.7 2.7 2.7 2.7 2.7 2.75 2.75 2.75 2.75 2.75 2.75 2.75 2.75 2.75 2.75 2.85 2.85 2.85 2.85 2.85 2.85 2.85 2.9 2.9 2.9 2.9 2.9 2.9 2.9 2.9 2.9 2.9 2.9 2.9 2.9 2.9 2.9 2.9 2.9 2.9 2.9 2.9 2.85 2.85 2.85 2.85 2.85 2.85}
\R{2.75 2.75 2.75 2.75 2.75 2.75 2.75 2.75 2.75 2.75 2.75 2.75 2.8 2.8 2.8 2.8 2.8 2.8 2.8 2.8 2.8 2.8 2.9 2.9 2.9 2.9 2.9 2.9 2.9 2.9 2.9 2.9 3 3 3 3 3 3 3 3 3 3 3 2.95 2.95 2.95 2.95 2.95 2.95 2.95 2.95 2.85 2.85 2.85}
\R{2.85 2.85 2.85 2.85 2.85 2.85 2.85 2.85 2.85 2.85 2.85 2.85 2.85 2.85 2.85 2.85 2.85 2.85 2.9 2.9 2.9 2.9 2.9 2.9 2.9 2.9 2.9 2.9 2.9 3 3 3 3 3 3 3 3 3 3 3 3 3 3 3 2.95 2.95 2.95 2.95 2.95 2.95 2.95 2.95 2.95 2.9}
\R{2.85 2.85 2.85 2.85 2.85 2.85 2.85 2.85 2.85 2.85 2.85 2.85 2.85 2.85 2.95 2.95 2.95 2.95 2.95 2.95 2.95 2.95 2.95 2.95 2.95 2.95 2.95 3 3 3 3 3 3 3 3 3 3 3 3 3 3 3 3 3 3 2.95 2.95 2.95 2.95 2.95 2.95 2.95 2.95 2.95}
\R{2.85 2.85 2.85 2.85 2.85 2.85 2.85 2.85 2.85 2.95 2.95 2.95 2.95 2.95 2.95 2.95 2.95 2.95 2.95 2.95 2.95 2.95 2.95 2.95 2.95 2.95 3 3 3 3 3 3 3 3 3 3 3 3 3 3 3 3 3 3 3 3 3 2.95 2.95 2.95 2.95 2.95 2.95 2.95}
\R{2.95 2.95 2.95 2.95 2.95 2.95 2.95 2.95 2.95 2.95 2.95 2.95 2.95 2.95 2.95 2.95 2.95 2.95 2.95 2.95 2.95 2.95 2.95 2.95 2.95 3 3 3 3 3 3 3 3 3 3 3 3 3 3 3 3 3 3 3 3 3 3 3 2.95 2.95 2.95 2.95 2.95 2.95}
\R{2.95 2.95 2.95 2.95 2.95 2.95 2.95 2.95 2.95 2.95 2.95 2.95 2.95 2.95 2.95 2.95 2.95 2.95 2.95 2.95 2.95 2.95 2.95 2.95 3 3 3 3 3 3 3 3 3 3 3 3 3 3 3 3 3 3 3 3 3 3 3 3 3 3 2.95 2.95 2.95 2.95}
\R{2.95 2.95 2.95 2.95 2.95 2.95 2.95 2.95 2.95 2.95 2.95 2.95 2.95 2.95 2.95 2.95 2.95 2.95 2.95 2.95 2.95 2.95 3 3 3 3 3 3 3 3 3 3 3 3 3 3 3 3 3 3 3 3 3 3 3 3 3 3 3 3 3 3 3 3}
\edef\dataB{\the\coordtoks}
\def\coicurve{(1351.50,0.4821)(1351.55,0.47921)(1351.82,0.38307)(1351.95,0.34222)(1352.05,0.32831)(1352.27,0.30114)(1352.51,0.27397)(1352.65,0.26028)(1352.78,0.24680)(1353.06,0.21921)(1353.54,0.19248)(1354.09,0.16552)(1354.85,0.13857)(1355.44,0.12595)(1355.99,0.11311)(1356.75,0.10070)(1357.65,0.08829)(1358.69,0.07888)(1359.86,0.06926)(1361.17,0.06091)(1362.62,0.05406)(1364.07,0.04851)(1365.73,0.04380)(1367.28,0.03973)(1368.84,0.03653)(1370.39,0.03353)(1372.12,0.03117)(1374.02,0.02903)(1376.36,0.0262)(1378.70,0.02903)(1380.60,0.03117)(1382.33,0.03353)(1383.88,0.03653)(1385.44,0.03973)(1386.99,0.0438)(1388.65,0.04851)(1390.10,0.05406)(1391.55,0.06091)(1392.86,0.06926)(1394.03,0.07888)(1395.07,0.08829)(1395.97,0.1007)(1396.73,0.11311)(1397.28,0.12595)(1397.87,0.13857)(1398.63,0.16552)(1399.18,0.19248)(1399.66,0.21921)(1399.94,0.2468)(1400.07,0.26028)(1400.21,0.27397)(1400.45,0.30114)(1400.67,0.32831)(1400.77,0.34222)(1400.90,0.38307)(1401.17,0.47921)(1401.22,0.4821)}
\begin{document}
\begin{tikzpicture}[x=1pt,y=1pt]
\path[use as bounding box] (0,0) rectangle (625,1250.4);
\begin{axis}[wave,at={(85.4pt,729.2pt)},anchor=south west,height=427.2pt,
  colormap name=parula,point meta min=0,point meta max=1,
  title={Wavelet Coherence Analysis\\Magnitude-Squared (R\textasciicircum 2) (0 to 1)\\Time Series: TAX-WEALTH to GDP x TAX-IMPORT to GDP\\1350-1403 (54 years) - Annually, Ref\#: 30 \& 34},
  colorbar style={at={(parent axis.north east)},anchor=north west,xshift=3.6pt,width=23.4pt,samples=65,scale only axis,
    ytick={0,0.1,...,1},yticklabels={0,0.1,0.2,0.3,0.4,0.5,0.6,0.7,0.8,0.9,1},ytick pos=right,yticklabel pos=right,tick align=inside,major tick length=4pt,
    axis line style={axgray!70,line width=0.6pt},every tick/.style={axgray,line width=0.45pt},
    tick label style={font=\fontsize{11.6}{12}\selectfont,text=axgray},xtick=\empty},
]
\edef\doplot{\noexpand\addplot[matrix plot*,mesh/cols=54,mesh/ordering=x varies,point meta=explicit] coordinates {\dataA};}\doplot
\edef\doline{\noexpand\addplot[white,line width=1.8pt,dash pattern=on 6.2pt off 6.4pt,mark=none] coordinates {\coicurve};}\doline
\end{axis}
\begin{axis}[wave,at={(85.4pt,135.8pt)},anchor=south west,height=428.4pt,
  colormap name=hsvm,point meta min=-3.14159,point meta max=3.14159,
  title={Phase Angle of Smoothed Wavelet Cross-Spectrum Coefficients (-$\pi$ to $\pi$)\\Time Series: TAX-WEALTH to GDP x TAX-IMPORT to GDP\\1350-1403 (54 years) - Annually, Ref\#: 30 \& 34},
  colorbar style={at={(parent axis.north east)},anchor=north west,xshift=3.6pt,width=23.4pt,samples=65,scale only axis,
    ytick={-3,-2,-1,0,1,2,3},yticklabels={-3,-2,-1,0,1,2,3},ytick pos=right,yticklabel pos=right,tick align=inside,major tick length=4pt,
    axis line style={axgray!70,line width=0.6pt},every tick/.style={axgray,line width=0.45pt},
    tick label style={font=\fontsize{11.6}{12}\selectfont,text=axgray},xtick=\empty},
]
\edef\doplot{\noexpand\addplot[matrix plot*,mesh/cols=54,mesh/ordering=x varies,point meta=explicit] coordinates {\dataB};}\doplot
\edef\doline{\noexpand\addplot[white,line width=1.8pt,dash pattern=on 6.2pt off 6.4pt,mark=none] coordinates {\coicurve};}\doline
\end{axis}
\end{tikzpicture}
\end{document}
